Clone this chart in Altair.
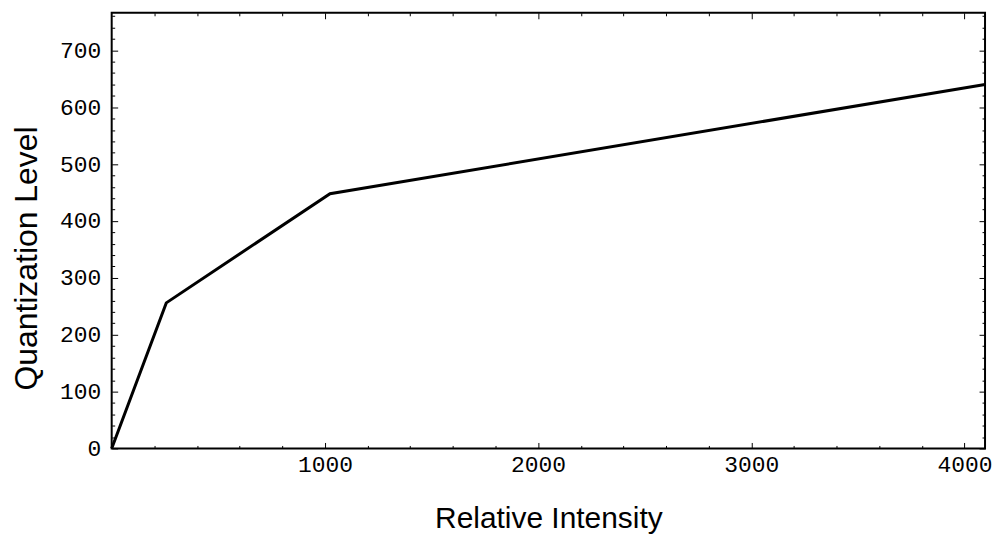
import altair as alt
import pandas as pd

# Data (piecewise-linear quantization curve)
intensity = [0, 256, 1024, 4096]
level = [0, 256, 448, 640]

x_major = [1000, 2000, 3000, 4000]
x_minor = [v for v in range(200, 4096, 200) if v % 1000 != 0]
y_major = [0, 100, 200, 300, 400, 500, 600, 700]
y_minor = [v for v in range(20, 766, 20) if v % 100 != 0]

x_domain = [0, 4096]
y_domain = [0, 766]

W, H = 876, 437

df = pd.DataFrame({"x": intensity, "y": level})
xs = alt.Scale(domain=x_domain, nice=False, zero=False)
ys = alt.Scale(domain=y_domain, nice=False, zero=False)

LABEL_FONT = "Liberation Mono"
TITLE_FONT = "Liberation Sans"


def tick_axis(orient, values, size, offset):
    return alt.Axis(orient=orient, values=values, tickSize=size, tickWidth=1,
                    tickColor="black", labels=False, domain=False, grid=False,
                    title=None, offset=offset)


def layer(xaxis, yaxis, visible):
    return alt.Chart(df).mark_line(
        color="black", strokeWidth=3, strokeOpacity=1 if visible else 0
    ).encode(
        x=alt.X("x:Q", scale=xs, axis=xaxis),
        y=alt.Y("y:Q", scale=ys, axis=yaxis),
    )


x_label_axis = alt.Axis(
    orient="bottom", values=x_major, format="d", ticks=False, tickSize=0,
    domain=False, grid=False,
    labelFont=LABEL_FONT, labelFontSize=23, labelColor="black",
    labelBaseline="alphabetic", labelPadding=23, labelFlush=False,
    title="Relative Intensity", titleFont=TITLE_FONT, titleFontSize=30,
    titleFontWeight="normal", titleColor="black", titleBaseline="alphabetic",
    titleY=79,
)
y_label_axis = alt.Axis(
    orient="left", values=y_major, format="d", ticks=False, tickSize=0,
    domain=False, grid=False,
    labelFont=LABEL_FONT, labelFontSize=23, labelColor="black",
    labelPadding=11, labelFlush=False,
    title="Quantization Level", titleFont=TITLE_FONT, titleFontSize=32,
    titleFontWeight="normal", titleColor="black", titleAngle=270,
    titleBaseline="alphabetic", titleX=-75, titleY=246,
)

layers = [
    layer(x_label_axis, y_label_axis, True),
    # inward ticks on bottom edge / left edge
    layer(tick_axis("top", x_major, 6, -H), tick_axis("right", y_major, 6, -W), False),
    layer(tick_axis("top", x_minor, 3, -H), tick_axis("right", y_minor, 3, -W), False),
    # inward ticks on top edge / right edge
    layer(tick_axis("bottom", x_major, 6, -H), tick_axis("left", y_major, 6, -W), False),
    layer(tick_axis("bottom", x_minor, 3, -H), tick_axis("left", y_minor, 3, -W), False),
]

chart = alt.layer(*layers).resolve_axis(
    x="independent", y="independent"
).properties(
    width=W, height=H,
    autosize=alt.AutoSizeParams(type="none"),
    padding={"left": 104, "top": 4, "right": 10, "bottom": 85},
).configure(
    background="white",
    view=alt.ViewConfig(stroke="black", strokeWidth=2),
)

chart.save("out.html", embed_options={"renderer": "svg", "actions": False})
